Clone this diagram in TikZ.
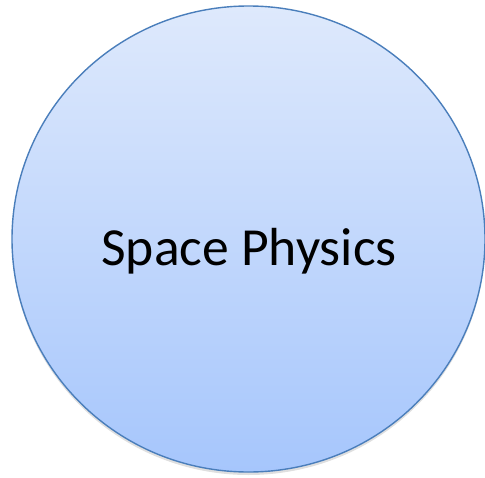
\documentclass[tikz,border=0pt]{standalone}
\usepackage{fontspec}
\setmainfont{Carlito}
\usetikzlibrary{shapes.geometric,shadows}
\definecolor{rimblue}{RGB}{74,126,187}
\definecolor{topblue}{RGB}{222,233,252}
\definecolor{botblue}{RGB}{166,198,252}

\begin{document}
\begin{tikzpicture}[x=1pt,y=-1pt]
        \useasboundingbox (0,0) rectangle (485,477);
        \node[ellipse,draw=rimblue,line width=1.4pt,top color=topblue,bottom color=botblue,
              minimum width=473pt,minimum height=466pt,inner sep=0pt,
              drop shadow={shadow xshift=0pt,shadow yshift=-3pt,opacity=0.25}] (globe) at (248.5,239) {};
        \node[anchor=base,font=\fontsize{53.6}{60}\selectfont,inner sep=0pt] (title) at (249,265.5) {Space Physics};
      \end{tikzpicture}
\end{document}
